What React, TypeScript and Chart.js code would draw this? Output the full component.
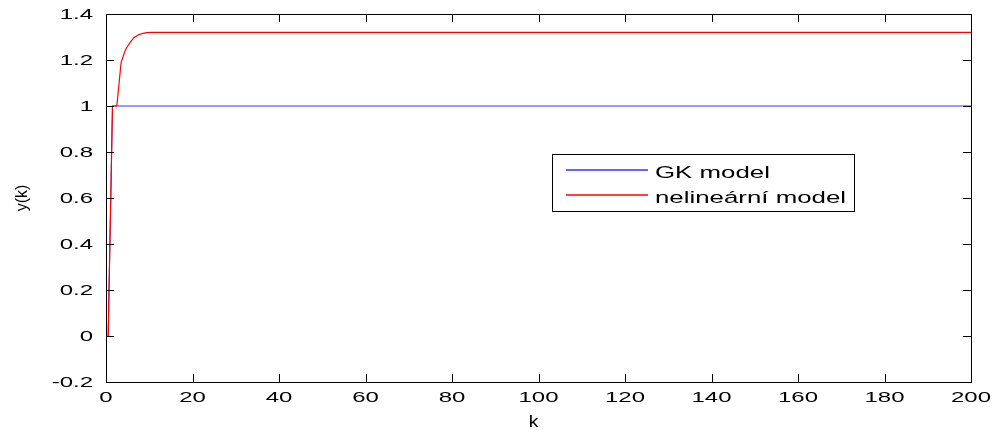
import React, { useEffect, useRef } from "react";
import { Chart, registerables } from "chart.js";

Chart.register(...registerables);

// ---- data ----
const gkK = [0.5, 1.5, 200];
const gkY = [0, 1.0, 1.0];
const nlK = [0.5, 1.5, 2.5, 3.5, 4.5, 5.5, 6.5, 7.5, 8.5, 9.5, 10.5, 200];
const nlY = [0, 1.0, 1.0, 1.19, 1.245, 1.275, 1.298, 1.31, 1.316, 1.319, 1.32, 1.32];
const seriesLabels = ["GK model", "nelineární model"];
const xTitle = "k";
const yTitle = "y(k)";

const BLUE = "rgb(50,50,255)";
const RED = "rgb(255,0,0)";
const FONT = "Liberation Sans, Arial, sans-serif";

function stretchText(ctx: CanvasRenderingContext2D, text: string, x: number, y: number, align: CanvasTextAlign, sx: number, size: number) {
  ctx.save();
  ctx.translate(x, y);
  ctx.scale(sx, 1);
  ctx.font = `${size}px ${FONT}`;
  ctx.textAlign = align;
  ctx.textBaseline = "alphabetic";
  ctx.fillStyle = "#000";
  ctx.fillText(text, 0, 0);
  ctx.restore();
}

const fmt = (v: number) => String(Math.round(v * 10) / 10);

const matlabPlugin = {
  id: "matlabDecor",
  afterDraw(chart: any) {
    const { ctx, chartArea: a, scales } = chart;
    const xs = scales.x;
    const ys = scales.y;
    ctx.save();
    ctx.strokeStyle = "#000";
    ctx.lineWidth = 1;
    const TL = 8;
    ctx.beginPath();
    xs.ticks.forEach((t: any) => {
      const px = Math.round(xs.getPixelForValue(t.value)) + 0.5;
      ctx.moveTo(px, a.bottom);
      ctx.lineTo(px, a.bottom - TL);
      ctx.moveTo(px, a.top);
      ctx.lineTo(px, a.top + TL);
    });
    ys.ticks.forEach((t: any) => {
      const py = Math.round(ys.getPixelForValue(t.value)) + 0.5;
      ctx.moveTo(a.left, py);
      ctx.lineTo(a.left + TL, py);
      ctx.moveTo(a.right, py);
      ctx.lineTo(a.right - TL, py);
    });
    ctx.stroke();
    ctx.strokeRect(Math.round(a.left) + 0.5, Math.round(a.top) + 0.5, Math.round(a.right - a.left), Math.round(a.bottom - a.top));

    // tick labels
    xs.ticks.forEach((t: any) => {
      const px = xs.getPixelForValue(t.value);
      stretchText(ctx, fmt(t.value), px, a.bottom + 20, "center", 1.6, 15);
    });
    ys.ticks.forEach((t: any) => {
      const py = ys.getPixelForValue(t.value);
      stretchText(ctx, fmt(t.value), a.left - 13, py + 5, "right", 1.6, 15);
    });

    // axis titles
    stretchText(ctx, xTitle, (a.left + a.right) / 2 - 5, a.bottom + 45, "center", 1.2, 16);
    ctx.save();
    ctx.translate(27, (a.top + a.bottom) / 2);
    ctx.rotate(-Math.PI / 2);
    ctx.font = `16px ${FONT}`;
    ctx.textAlign = "center";
    ctx.textBaseline = "alphabetic";
    ctx.fillStyle = "#000";
    ctx.fillText(yTitle, 0, 0);
    ctx.restore();

    // legend
    const bx = 552, by = 154, bw = 302, bh = 57;
    ctx.fillStyle = "#fff";
    ctx.fillRect(bx, by, bw, bh);
    ctx.strokeStyle = "#000";
    ctx.strokeRect(bx + 0.5, by + 0.5, bw, bh);
    const colors = [BLUE, RED];
    const rows = [170, 195];
    seriesLabels.forEach((lab, i) => {
      ctx.strokeStyle = colors[i];
      ctx.lineWidth = 1.4;
      ctx.beginPath();
      ctx.moveTo(566, rows[i]);
      ctx.lineTo(648, rows[i]);
      ctx.stroke();
      stretchText(ctx, lab, 655, rows[i] + 8, "left", 1.52, 17);
    });
    ctx.restore();
  },
};

export default function App() {
  const ref = useRef<HTMLCanvasElement | null>(null);
  useEffect(() => {
    if (!ref.current) return;
    const chart = new Chart(ref.current, {
      type: "line",
      data: {
        datasets: [
          {
            label: seriesLabels[0],
            data: gkK.map((k, i) => ({ x: k, y: gkY[i] })),
            borderColor: BLUE,
            borderWidth: 1,
            pointRadius: 0,
            tension: 0,
            order: 2,
          },
          {
            label: seriesLabels[1],
            data: nlK.map((k, i) => ({ x: k, y: nlY[i] })),
            borderColor: RED,
            borderWidth: 1.2,
            pointRadius: 0,
            tension: 0,
            order: 1,
          },
        ],
      },
      options: {
        animation: false,
        responsive: false,
        layout: { padding: { top: 14, right: 24, left: 0, bottom: 0 } },
        plugins: { legend: { display: false }, tooltip: { enabled: false } },
        scales: {
          x: {
            type: "linear",
            min: 0,
            max: 200,
            ticks: { stepSize: 20, display: false },
            grid: { display: false },
            border: { display: false },
            afterFit: (s: any) => { s.height = 48; },
          },
          y: {
            type: "linear",
            min: -0.2,
            max: 1.4,
            ticks: { stepSize: 0.2, display: false },
            grid: { display: false },
            border: { display: false },
            afterFit: (s: any) => { s.width = 106; },
          },
        },
      },
      plugins: [matlabPlugin],
    });
    return () => chart.destroy();
  }, []);
  return (
    <div style={{ position: "absolute", left: 0, top: 0, width: 995, height: 430, background: "#fff" }}>
      <canvas ref={ref} width={995} height={430} />
    </div>
  );
}
